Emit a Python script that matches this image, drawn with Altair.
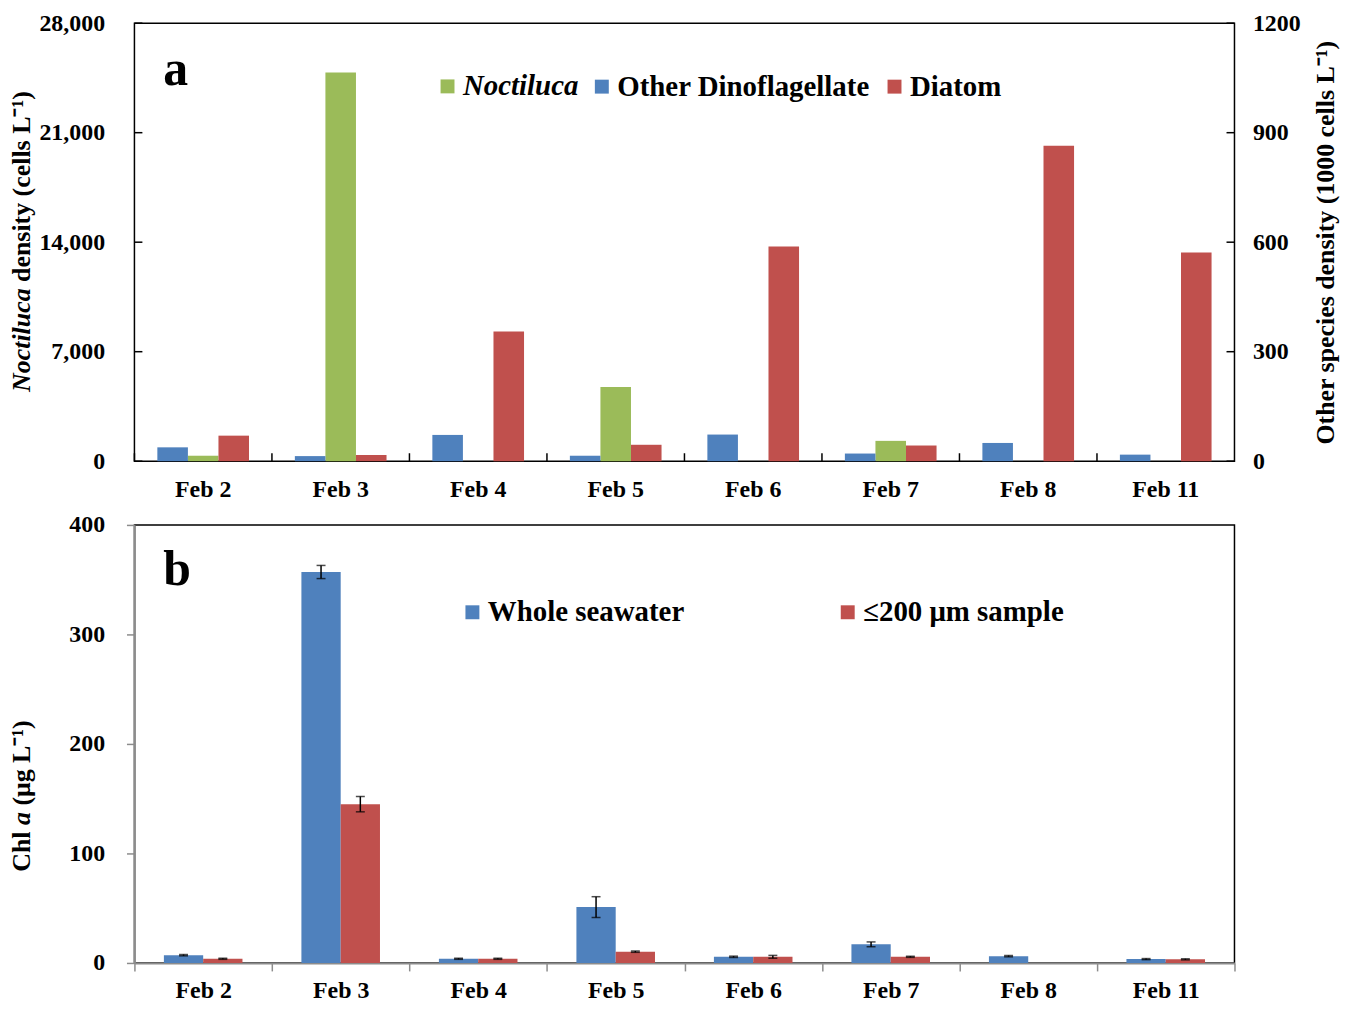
import altair as alt
import pandas as pd

# ---------------- data ----------------
dates = ["Feb 2", "Feb 3", "Feb 4", "Feb 5", "Feb 6", "Feb 7", "Feb 8", "Feb 11"]

# panel a
noctiluca = [350, 24850, 0, 4750, 0, 1300, 0, 0]          # cells L-1 (left axis)
other_dino = [38, 14, 72, 15, 73, 21, 50, 18]             # 1000 cells L-1 (right axis)
diatom = [70, 17, 355, 45, 588, 43, 864, 572]             # 1000 cells L-1 (right axis)

# panel b
chl_whole = [7.1, 357, 3.8, 51, 5.6, 17, 6.2, 3.5]
chl_whole_err = [0.6, 6, 0.5, 9.5, 0.6, 2.2, 0.6, 0.5]
chl_small = [3.8, 145, 3.8, 10.3, 5.6, 5.6, 0, 3.3]
chl_small_err = [0.5, 7, 0.5, 0.6, 1.3, 0.5, 0, 0.5]

left_ticks = [0, 7000, 14000, 21000, 28000]
right_ticks = [0, 300, 600, 900, 1200]
chl_ticks = [0, 100, 200, 300, 400]

NOC, OD, DIA = "Noctiluca", "Other Dinoflagellate", "Diatom"
WS, SM = "Whole seawater", "≤200 μm sample"
BLUE, GREEN, RED = "#4F81BD", "#9BBB59", "#C0504D"
GRAY = "#8c8c8c"
FONT = "Liberation Serif"

W = 1105
H1 = 440
H2 = 440
TFS = 26   # axis title font size
LFS = 24   # tick label size
GFS = 29   # legend label size

# ---------------- tables ----------------
noc_df = pd.DataFrame({"date": dates, "species": [NOC] * len(dates), "value": noctiluca})
oth_df = pd.DataFrame({
    "date": dates * 2,
    "species": [OD] * len(dates) + [DIA] * len(dates),
    "value": other_dino + diatom,
})
chl_df = pd.DataFrame({
    "date": dates * 2,
    "series": [WS] * len(dates) + [SM] * len(dates),
    "value": chl_whole + chl_small,
    "err": chl_whole_err + chl_small_err,
})
err_df = chl_df[chl_df["err"] > 0].copy()
err_df["lo"] = err_df["value"] - err_df["err"]
err_df["hi"] = err_df["value"] + err_df["err"]

one = pd.DataFrame({"k": [0]})

def txt(text, x, y, size, style="normal", align="left", angle=0, baseline="alphabetic"):
    kw = dict(font=FONT, fontSize=size, fontWeight="bold", fontStyle=style,
              align=align, baseline=baseline, color="black")
    if angle:
        kw["angle"] = angle
    return alt.Chart(one).mark_text(**kw).encode(
        x=alt.value(x), y=alt.value(y), text=alt.value(text))

# ---------------- panel a ----------------
top_x_axis = alt.Axis(title=None, labelAngle=0, ticks=False, tickSize=0,
                      domain=False, labelPadding=16, labelFontSize=LFS)
top_x_scale = alt.Scale(paddingInner=0, paddingOuter=0)
x_top = alt.X("date:N", sort=dates, scale=top_x_scale, axis=top_x_axis)
xoff_top = alt.XOffset("species:N",
                       scale=alt.Scale(domain=[OD, NOC, DIA], paddingInner=0, paddingOuter=0.75))

noc_bars = alt.Chart(noc_df).mark_bar().encode(
    x=x_top, xOffset=xoff_top,
    y=alt.Y("value:Q", scale=alt.Scale(domain=[0, 28000], nice=False),
            axis=alt.Axis(orient="left", values=left_ticks, format=",d", title=None,
                          ticks=False, tickSize=0, domain=False, grid=False,
                          labelPadding=30, labelFontSize=LFS)),
    fill=alt.Fill("species:N", scale=alt.Scale(domain=[NOC], range=[GREEN]),
                  legend=alt.Legend(orient="none", legendX=300, legendY=49, title=None,
                                    direction="horizontal", labelFontStyle="italic")),
)

oth_bars = alt.Chart(oth_df).mark_bar().encode(
    x=x_top, xOffset=xoff_top,
    y=alt.Y("value:Q", scale=alt.Scale(domain=[0, 1200], nice=False),
            axis=alt.Axis(orient="right", values=right_ticks, format="d",
                          title="Other species density (1000 cells L⁻¹)",
                          titleAngle=270, titlePadding=38, titleFontSize=TFS,
                          ticks=False, tickSize=0, domain=False, grid=False,
                          labelPadding=18, labelFontSize=LFS)),
    color=alt.Color("species:N", scale=alt.Scale(domain=[OD, DIA], range=[BLUE, RED]),
                    legend=alt.Legend(orient="none", legendX=455, legendY=49, title=None,
                                      direction="horizontal", columnPadding=10)),
)

lt = alt.Chart(pd.DataFrame({"v": left_ticks})).mark_rule(color="black", strokeWidth=1.5).encode(
    y=alt.Y("v:Q", scale=alt.Scale(domain=[0, 28000], nice=False), axis=None),
    x=alt.value(0), x2=alt.value(8))
rt = alt.Chart(pd.DataFrame({"v": right_ticks})).mark_rule(color="black", strokeWidth=1.5).encode(
    y=alt.Y("v:Q", scale=alt.Scale(domain=[0, 1200], nice=False), axis=None),
    x=alt.value(W - 8), x2=alt.value(W))
xt = alt.Chart(pd.DataFrame({"date": dates})).mark_rule(color="black", strokeWidth=1.5).encode(
    x=alt.X("date:N", sort=dates, bandPosition=0, scale=top_x_scale, axis=top_x_axis),
    y=alt.value(H1 - 8), y2=alt.value(H1))

# left title with italic genus name
w_noc = 4.0 * TFS
w_sp = 0.25 * TFS
w_rest = 7.32 * TFS
P = H1 / 2 - (w_noc - w_sp - w_rest) / 2
TX = -113
title_a1 = txt("Noctiluca", TX, P, TFS, style="italic", align="right", angle=270, baseline="middle")
title_a2 = txt("density (cells L⁻¹)", TX, P - w_sp, TFS, align="left", angle=270, baseline="middle")
letter_a = txt("a", 29, 62, 50)

top = alt.layer(noc_bars, oth_bars, lt, rt, xt, title_a1, title_a2, letter_a).resolve_scale(
    y="independent").properties(width=W, height=H1)

# ---------------- panel b ----------------
bot_x_axis = alt.Axis(title=None, labelAngle=0, ticks=True, tickBand="extent", tickSize=8,
                      tickColor=GRAY, tickWidth=1.5, domain=True, domainColor=GRAY,
                      domainWidth=2, labelPadding=8, labelFontSize=LFS)
x_bot = alt.X("date:N", sort=dates, scale=alt.Scale(paddingInner=0, paddingOuter=0), axis=bot_x_axis)
xoff_bot = alt.XOffset("series:N",
                       scale=alt.Scale(domain=[WS, SM], paddingInner=0, paddingOuter=0.75))
y_scale_b = alt.Scale(domain=[0, 400], nice=False)
y_axis_b = alt.Axis(values=chl_ticks, format="d", title=None, grid=False,
                    ticks=True, tickSize=8, tickColor=GRAY, tickWidth=1.5,
                    domain=True, domainColor=GRAY, domainWidth=2,
                    labelPadding=22, labelFontSize=LFS)

chl_bars = alt.Chart(chl_df).mark_bar().encode(
    x=x_bot, xOffset=xoff_bot,
    y=alt.Y("value:Q", scale=y_scale_b, axis=y_axis_b),
    color=alt.Color("series:N", scale=alt.Scale(domain=[WS, SM], range=[BLUE, RED]),
                    legend=alt.Legend(orient="none", legendX=325, legendY=73, title=None,
                                      direction="horizontal", columnPadding=149)),
)

err_rule = alt.Chart(err_df).mark_rule(color="black", strokeWidth=1.5).encode(
    x=x_bot, xOffset=xoff_bot,
    y=alt.Y("lo:Q", scale=y_scale_b, axis=y_axis_b), y2="hi:Q")
err_caps = alt.Chart(err_df).transform_fold(["lo", "hi"], as_=["end", "yv"]).mark_tick(
    color="black", thickness=1.5, size=9).encode(
    x=x_bot, xOffset=xoff_bot,
    y=alt.Y("yv:Q", scale=y_scale_b, axis=y_axis_b))

w_chl = 1.556 * TFS
w_a = 0.5 * TFS
w_par = 3.26 * TFS
C = 0.62 * H2
P1 = C - (w_chl - 2 * w_sp - w_a - w_par) / 2
title_b1 = txt("Chl", TX, P1, TFS, align="right", angle=270, baseline="middle")
title_b2 = txt("a", TX, P1 - w_sp, TFS, style="italic", align="left", angle=270, baseline="middle")
title_b3 = txt("(μg L⁻¹)", TX, P1 - 2 * w_sp - w_a, TFS, align="left", angle=270, baseline="middle")
letter_b = txt("b", 29, 60, 50)

bottom = alt.layer(chl_bars, err_rule, err_caps, title_b1, title_b2, title_b3, letter_b).properties(
    width=W, height=H2)

chart = alt.vconcat(top, bottom, spacing=10).resolve_scale(
    color="independent", fill="independent", xOffset="independent"
).properties(
    padding={"left": 0, "top": 0, "right": 2, "bottom": 0}
).configure_view(
    stroke="black", strokeWidth=1.5
).configure_axis(
    labelFont=FONT, labelFontWeight="bold", labelColor="black",
    titleFont=FONT, titleFontWeight="bold", titleColor="black",
).configure_legend(
    labelFont=FONT, labelFontWeight="bold", labelFontSize=GFS, labelColor="black",
    symbolType="square", symbolSize=196, symbolStrokeWidth=0, symbolOpacity=1,
    labelOffset=1, padding=0, labelLimit=0,
)

chart.save("out.html", embed_options={"renderer": "svg", "actions": False})
